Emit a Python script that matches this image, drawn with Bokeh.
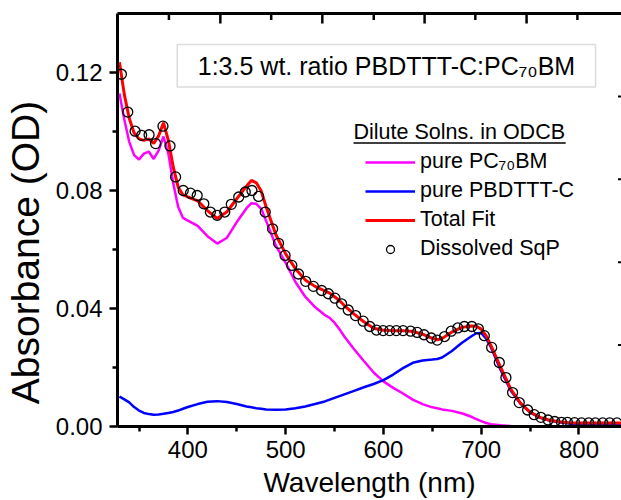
from bokeh.plotting import figure
from bokeh.models import (LinearAxis, FixedTicker, PrintfTickFormatter, Range1d,
                          Legend, LegendItem, Label, BoxAnnotation)
from bokeh.embed import file_html
from bokeh.resources import INLINE

# ---------------- data ----------------
wl = [330, 335, 340, 345, 350, 355, 360, 365, 370, 375, 380, 385, 390, 395, 400,
      410, 420, 430, 440, 450, 460, 465, 470, 475, 480, 490, 500, 510, 520, 530,
      540, 545, 550, 555, 560, 570, 580, 590, 600, 610, 620, 630, 640, 650, 655,
      660, 670, 680, 690, 695, 700, 705, 710, 720, 730, 740, 750, 760, 770, 780,
      790, 800, 820, 843.5]

pc70bm = [0.1129, 0.1040, 0.0965, 0.0920, 0.0905, 0.0925, 0.0932, 0.0907, 0.0935, 0.0983,
          0.0925, 0.0825, 0.0745, 0.0707, 0.0698, 0.0680, 0.0645, 0.0620, 0.0640, 0.0693,
          0.0740, 0.0757, 0.0755, 0.0738, 0.0697, 0.0613, 0.0555, 0.0490, 0.0440, 0.0405,
          0.0378, 0.0368, 0.0352, 0.0330, 0.0305, 0.0262, 0.0222, 0.0183, 0.0153, 0.0131,
          0.0112, 0.0091, 0.0076, 0.0065, 0.0062, 0.0058, 0.0053, 0.0045, 0.0033, 0.0025,
          0.0018, 0.0012, 0.0008, 0.0004, 0.0002, 0.0001, 0.0, 0.0, 0.0, 0.0,
          0.0, 0.0, 0.0, 0.0]

pbdttt = [0.0101, 0.0092, 0.0082, 0.0066, 0.0054, 0.0046, 0.0042, 0.0040, 0.0041, 0.0043,
          0.0046, 0.0049, 0.0054, 0.0060, 0.0066, 0.0076, 0.0084, 0.0086, 0.0083, 0.0076,
          0.0068, 0.0065, 0.0062, 0.0060, 0.0058, 0.0057, 0.0058, 0.0062, 0.0068, 0.0076,
          0.0085, 0.0091, 0.0097, 0.0103, 0.0109, 0.0121, 0.0133, 0.0144, 0.0157, 0.0176,
          0.0198, 0.0216, 0.0224, 0.0227, 0.0229, 0.0234, 0.0256, 0.0283, 0.0306, 0.0316,
          0.0317, 0.0298, 0.0268, 0.0191, 0.0123, 0.0078, 0.0048, 0.0030, 0.0020, 0.0014,
          0.0010, 0.0008, 0.0006, 0.0005]

total_fit = [0.1235, 0.1125, 0.1045, 0.0995, 0.0975, 0.0970, 0.0975, 0.0960, 0.0985, 0.1030,
             0.0970, 0.0880, 0.0812, 0.0785, 0.0778, 0.0765, 0.0732, 0.0705, 0.0728, 0.0772,
             0.0815, 0.0834, 0.0826, 0.0798, 0.0745, 0.0650, 0.0585, 0.0535, 0.0497, 0.0475,
             0.0460, 0.0452, 0.0440, 0.0427, 0.0410, 0.0381, 0.0355, 0.0333, 0.0326, 0.0325,
             0.0325, 0.0322, 0.0313, 0.0299, 0.0294, 0.0298, 0.0320, 0.0336, 0.0341, 0.0340,
             0.0330, 0.0308, 0.0274, 0.0200, 0.0128, 0.0080, 0.0049, 0.0031, 0.0021, 0.0016,
             0.0013, 0.0012, 0.0012, 0.0012]

sqp_wl = [332.0, 338.5, 346.0, 352.7, 360.3, 367.0, 374.5, 381.7, 387.4, 395.2,
          402.6, 409.5, 416.3, 423.0, 429.9, 437.7, 444.4, 452.0, 458.7, 465.5,
          472.3, 479.1, 486.6, 492.7, 499.4, 506.3, 513.1, 520.5, 528.4, 536.8,
          543.7, 550.4, 557.2, 564.0, 571.5, 579.3, 586.0, 592.9, 599.7, 606.4,
          613.2, 620.1, 627.8, 634.6, 641.5, 648.9, 655.0, 662.5, 669.3, 676.1,
          682.8, 690.4, 697.1, 703.2, 710.7, 718.5, 725.3, 732.1, 738.9, 747.5,
          754.2, 761.0, 768.4, 775.2, 782.1, 788.2, 795.5, 802.6, 810.0, 816.8,
          824.3, 831.4, 838.9]
sqp_abs = [0.1194, 0.1066, 0.1001, 0.0987, 0.0989, 0.0959, 0.1018, 0.0951, 0.0846, 0.0800,
           0.0791, 0.0783, 0.0755, 0.0727, 0.0716, 0.0727, 0.0753, 0.0778, 0.0795, 0.0800,
           0.0780, 0.0727, 0.0670, 0.0621, 0.0580, 0.0546, 0.0517, 0.0492, 0.0475, 0.0461,
           0.0450, 0.0435, 0.0416, 0.0395, 0.0376, 0.0357, 0.0339, 0.0327, 0.0325, 0.0325,
           0.0325, 0.0325, 0.0323, 0.0319, 0.0311, 0.0300, 0.0293, 0.0305, 0.0323, 0.0334,
           0.0339, 0.0339, 0.0331, 0.0308, 0.0268, 0.0217, 0.0166, 0.0115, 0.0081, 0.0056,
           0.0040, 0.0031, 0.0022, 0.0017, 0.0014, 0.0014, 0.0013, 0.0012, 0.0012, 0.0012,
           0.0012, 0.0012, 0.0012]

x_major = [400, 500, 600, 700, 800]
x_minor = [350, 450, 550, 650, 750, 850]
y_major = [0.0, 0.04, 0.08, 0.12]
y_minor = [0.02, 0.06, 0.10]
top_major = [433.2, 537.5, 642.1, 746.4]
top_minor = [380.6, 485.2, 590.1, 694.0, 798.4]
right_ticks = [0.0276, 0.0557, 0.0838, 0.1119]

series_labels = ["pure PC\u2087\u2080BM", "pure PBDTTT-C", "Total Fit", "Dissolved SqP"]
box_text = "1:3.5 wt. ratio PBDTTT-C:PC\u2087\u2080BM"
legend_title = "Dilute Solns. in ODCB"
x_title = "Wavelength (nm)"
# non-breaking spaces shift the centred title down, as in the reference
y_title = "Absorbance (OD)" + "\u00a0" * 6

FONT = "Liberation Sans"
X0, X1, Y0, Y1 = 328, 843.5, 0.0, 0.14

# ---------------- figure ----------------
p = figure(width=621, height=500, x_range=Range1d(X0, X1), y_range=Range1d(Y0, Y1),
           output_backend="svg", toolbar_location=None,
           min_border_left=115, min_border_right=0, min_border_top=13, min_border_bottom=74,
           x_axis_label=x_title, y_axis_label=y_title)
p.outline_line_color = None
p.grid.visible = False
p.background_fill_color = "white"
p.border_fill_color = "white"

xa = p.xaxis[0]
xa.ticker = FixedTicker(ticks=x_major, minor_ticks=x_minor)
ya = p.yaxis[0]
ya.ticker = FixedTicker(ticks=y_major, minor_ticks=y_minor)
ya.formatter = PrintfTickFormatter(format="%.2f")

for ax in (xa, ya):
    ax.axis_line_width = 3
    ax.major_tick_line_width = 2.5
    ax.minor_tick_line_width = 2.5
    ax.major_tick_out = 8
    ax.major_tick_in = 0
    ax.minor_tick_out = 5
    ax.minor_tick_in = 0
    ax.major_label_text_font = FONT
    ax.major_label_text_font_size = "24px"
    ax.major_label_text_color = "black"
    ax.axis_label_text_font = FONT
    ax.axis_label_text_font_style = "normal"
    ax.axis_label_text_color = "black"

xa.major_label_standoff = 6
xa.axis_label_text_font_size = "28px"
xa.axis_label_standoff = 6
ya.major_label_standoff = 7
ya.axis_label_text_font_size = "39px"
ya.axis_label_standoff = 6

# top frame line (ticks pointing inward are drawn below as short segments)
top = LinearAxis(ticker=FixedTicker(ticks=top_major, minor_ticks=top_minor),
                 axis_line_width=3, major_tick_in=0, major_tick_out=0,
                 minor_tick_in=0, minor_tick_out=0,
                 major_label_text_font_size="0px", major_label_standoff=0,
                 major_label_text_alpha=0)
p.add_layout(top, "above")

# inward tick marks on the top and right edges of the frame
px_y = (Y1 - Y0) / 412.7
px_x = (X1 - X0) / 506.0
p.segment(x0=top_major, x1=top_major, y0=[Y1] * len(top_major),
          y1=[Y1 - 10 * px_y] * len(top_major), line_color="black", line_width=2.5)
p.segment(x0=top_minor, x1=top_minor, y0=[Y1] * len(top_minor),
          y1=[Y1 - 6.5 * px_y] * len(top_minor), line_color="black", line_width=2.5)
p.segment(x0=[X1] * len(right_ticks), x1=[X1 - 3.5 * px_x] * len(right_ticks),
          y0=right_ticks, y1=right_ticks, line_color="black", line_width=2)

# ---------------- curves ----------------
r_pc = p.line(wl, pc70bm, line_color="#ff00ff", line_width=2.5)
r_pb = p.line(wl, pbdttt, line_color="#0000ff", line_width=2.5)
r_fit = p.line(wl, total_fit, line_color="#ff0000", line_width=3)
r_sqp = p.scatter(sqp_wl, sqp_abs, marker="circle", size=10, fill_alpha=0,
                  line_color="black", line_width=1.3)

# ---------------- annotation box ----------------
p.add_layout(BoxAnnotation(left=389.1, right=817.0, bottom=0.1151, top=0.1295,
                           fill_alpha=0, line_color="#8a8a8a", line_width=1.5))
p.add_layout(Label(x=603.1, y=0.1223, text=box_text, text_align="center",
                   text_baseline="middle", text_font=FONT, text_font_size="25px",
                   text_color="black"))

# ---------------- legend ----------------
p.add_layout(Label(x=569.4, y=0.0997, text=legend_title, text_align="left",
                   text_baseline="middle", text_font=FONT, text_font_size="21.5px",
                   text_color="black"))
p.add_layout(BoxAnnotation(left=569.4, right=786.4, bottom=0.09585, top=0.09635,
                           fill_color="black", fill_alpha=1, line_color=None))

legend = Legend(items=[LegendItem(label=series_labels[0], renderers=[r_pc]),
                       LegendItem(label=series_labels[1], renderers=[r_pb]),
                       LegendItem(label=series_labels[2], renderers=[r_fit]),
                       LegendItem(label=series_labels[3], renderers=[r_sqp])],
                location=(248, 165), orientation="vertical",
                glyph_width=50, glyph_height=20, label_standoff=5,
                label_height=20, spacing=4, padding=0, margin=0,
                border_line_color=None, background_fill_alpha=0,
                label_text_font=FONT, label_text_font_size="21.5px",
                label_text_color="black")
p.add_layout(legend)

open("out.html", "w").write(file_html(p, INLINE))
